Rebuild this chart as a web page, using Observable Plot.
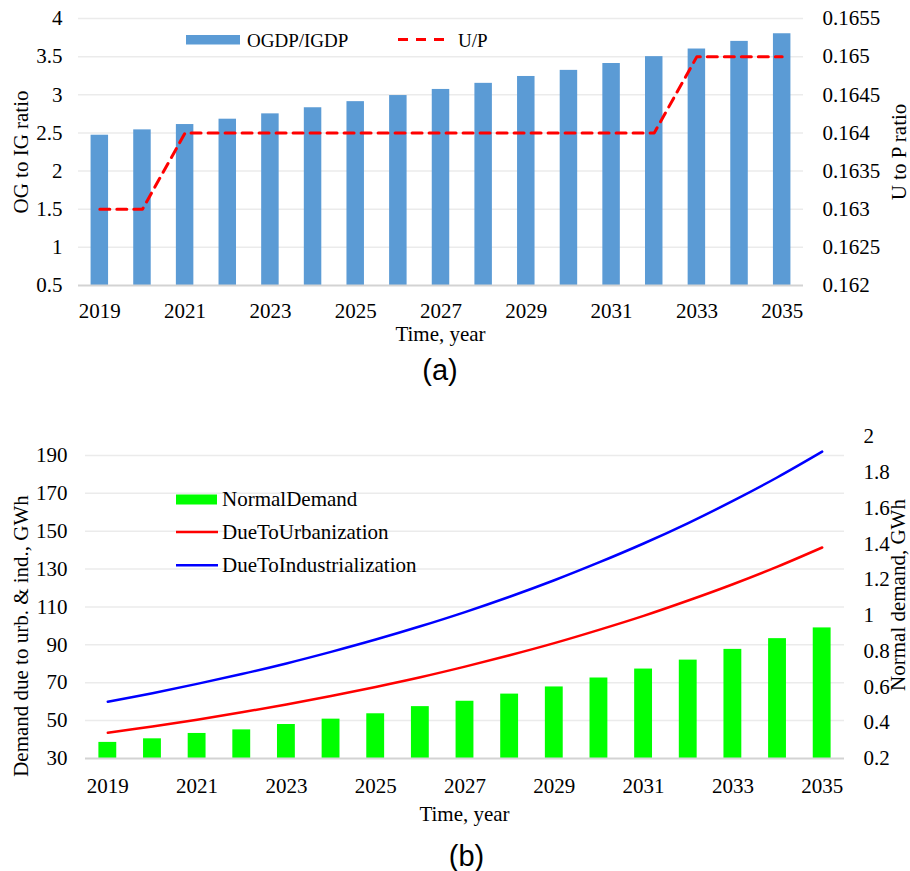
<!DOCTYPE html>
<html>
<head>
<meta charset="utf-8">
<script src="https://cdn.jsdelivr.net/npm/d3@7"></script>
<script src="https://cdn.jsdelivr.net/npm/@observablehq/plot@0.6"></script>
<style>
  html, body { margin: 0; padding: 0; background: #fff; }
  #page { position: relative; width: 910px; height: 871px; overflow: hidden; background: #fff; }
  #page > svg { position: absolute; left: 0; top: 0; }
  #page svg text { font-family: 'Liberation Serif', 'Times New Roman', serif; }
</style>
</head>
<body>
<div id="page"></div>
<script>
// ---- data ---------------------------------------------------------------
const years = [2019, 2020, 2021, 2022, 2023, 2024, 2025, 2026, 2027, 2028, 2029, 2030, 2031, 2032, 2033, 2034, 2035];
const yearTicks = [2019, 2021, 2023, 2025, 2027, 2029, 2031, 2033, 2035];

// (a) output-to-input GDP ratio (bars, left axis) and urban-to-total population ratio (line, right axis)
const ogdpIgdp = [2.47, 2.54, 2.61, 2.68, 2.75, 2.83, 2.91, 2.99, 3.07, 3.15, 3.24, 3.32, 3.41, 3.50, 3.60, 3.70, 3.80];
const upRatio = [0.163, 0.163, 0.164, 0.164, 0.164, 0.164, 0.164, 0.164, 0.164, 0.164, 0.164, 0.164, 0.164, 0.164, 0.165, 0.165, 0.165];
const ogTicks = [0.5, 1, 1.5, 2, 2.5, 3, 3.5, 4];
const upTicks = [0.162, 0.1625, 0.163, 0.1635, 0.164, 0.1645, 0.165, 0.1655];

// (b) demand: normal (bars, right axis), due to urbanization / industrialization (lines, left axis)
const normalDemand = [0.29, 0.31, 0.34, 0.36, 0.39, 0.42, 0.45, 0.49, 0.52, 0.56, 0.60, 0.65, 0.70, 0.75, 0.81, 0.87, 0.93];
const dueToUrbanization = [43.6, 46.9, 50.5, 54.4, 58.5, 63.0, 67.8, 72.9, 78.5, 84.5, 90.9, 97.9, 105.3, 113.4, 122.0, 131.3, 141.4];
const dueToIndustrialization = [60.0, 64.5, 69.4, 74.6, 80.2, 86.3, 92.8, 99.8, 107.3, 115.4, 124.1, 133.5, 143.5, 154.3, 166.0, 178.5, 192.0];
const demandTicks = [30, 50, 70, 90, 110, 130, 150, 170, 190];
const normalTicks = [0.2, 0.4, 0.6, 0.8, 1, 1.2, 1.4, 1.6, 1.8, 2];

const ogDomain = [0.5, 4];
const upDomain = [0.162, 0.1655];
const demandDomain = [30, 200];
const normalDomain = [0.2, 2];

const rowsA = years.map((year, i) => ({year, og: ogdpIgdp[i], up: upRatio[i]}));
const rowsB = years.map((year, i) => ({year, normal: normalDemand[i], urb: dueToUrbanization[i], ind: dueToIndustrialization[i]}));

// ---- layout -------------------------------------------------------------
const W = 910, H = 871;
const SERIF = "'Liberation Serif', 'Times New Roman', serif";
const SANS = "'Liberation Sans', Arial, sans-serif";
const GRID = "#ebebeb";
const BASE = "#d3d3d3";
const fmt = d => `${d}`;

const frameA = {marginTop: 18, marginBottom: H - 285, marginLeft: 78, marginRight: W - 803};
const frameB = {marginTop: 436, marginBottom: H - 758, marginLeft: 85, marginRight: W - 844};

const xA = {type: "band", domain: years, paddingInner: 0.59, paddingOuter: 0.295, round: false};
const xB = {type: "band", domain: years, paddingInner: 0.6, paddingOuter: 0.3, round: false};

const page = document.getElementById("page");

function layer(options) {
  const svg = Plot.plot({
    width: W,
    height: H,
    style: `font-family: ${SERIF}; font-size: 21px; color: #000; background: transparent; overflow: visible;`,
    ...options
  });
  page.appendChild(svg);
  return svg;
}

// (a) bars, grid and left axis
layer({
  ...frameA,
  x: {...xA, ticks: yearTicks, tickSize: 0, tickPadding: 18, tickFormat: fmt, label: null},
  y: {domain: ogDomain, ticks: ogTicks, tickSize: 0, tickPadding: 16, tickFormat: fmt, label: null},
  marks: [
    Plot.ruleY(ogTicks.slice(1), {stroke: GRID, strokeWidth: 1.5}),
    Plot.barY(rowsA, {x: "year", y1: ogDomain[0], y2: "og", fill: "#5b9bd5"}),
    Plot.ruleY([ogDomain[0]], {stroke: BASE, strokeWidth: 2})
  ]
});

// (a) U/P line and right axis
layer({
  ...frameA,
  x: {...xA, axis: null},
  y: {domain: upDomain, axis: "right", ticks: upTicks, tickSize: 0, tickPadding: 19, tickFormat: fmt, label: null},
  marks: [
    Plot.line(rowsA, {x: "year", y: "up", stroke: "#ff0000", strokeWidth: 3, strokeDasharray: "10,7"})
  ]
});

// (b) grid, x axis and left axis
layer({
  ...frameB,
  x: {...xB, ticks: yearTicks, tickSize: 0, tickPadding: 20, tickFormat: fmt, label: null},
  y: {domain: demandDomain, ticks: demandTicks, tickSize: 0, tickPadding: 18, tickFormat: fmt, label: null},
  marks: [
    Plot.ruleY(demandTicks.slice(1), {stroke: GRID, strokeWidth: 1.5})
  ]
});

// (b) normal demand bars and right axis
layer({
  ...frameB,
  x: {...xB, axis: null},
  y: {domain: normalDomain, axis: "right", ticks: normalTicks, tickSize: 0, tickPadding: 19, tickFormat: fmt, label: null},
  marks: [
    Plot.barY(rowsB, {x: "year", y1: normalDomain[0], y2: "normal", fill: "#00ff00"})
  ]
});

// (b) urbanization / industrialization lines
layer({
  ...frameB,
  x: {...xB, axis: null},
  y: {domain: demandDomain, axis: null},
  marks: [
    Plot.ruleY([demandDomain[0]], {stroke: BASE, strokeWidth: 2}),
    Plot.line(rowsB, {x: "year", y: "urb", stroke: "#ff0000", strokeWidth: 2.5, curve: "catmull-rom"}),
    Plot.line(rowsB, {x: "year", y: "ind", stroke: "#0000ff", strokeWidth: 2.5, curve: "catmull-rom"})
  ]
});

// ---- titles, legends and panel labels -----------------------------------
const ann = d3.select(page).append("svg")
  .attr("width", W).attr("height", H)
  .style("font-family", SERIF).style("font-size", "21px");

function text(x, y, s, opts = {}) {
  const t = ann.append("text").attr("x", x).attr("y", y).text(s)
    .attr("text-anchor", opts.anchor || "start").attr("fill", "#000");
  if (opts.size) t.style("font-size", opts.size);
  if (opts.family) t.style("font-family", opts.family);
  return t;
}
function vtext(x, y, s) {
  ann.append("text").attr("transform", `translate(${x},${y}) rotate(-90)`)
    .attr("text-anchor", "middle").attr("fill", "#000").text(s);
}

// axis titles
vtext(28, 152, "OG to IG ratio");
vtext(906, 152, "U to P ratio");
text(440.5, 341, "Time, year", {anchor: "middle"});
vtext(28, 636, "Demand due to urb. & ind., GWh");
vtext(905, 595, "Normal demand, GWh");
text(464.5, 821, "Time, year", {anchor: "middle"});

// legend (a)
ann.append("rect").attr("x", 186).attr("y", 35).attr("width", 54).attr("height", 9.5).attr("fill", "#5b9bd5");
text(247, 46.5, "OGDP/IGDP", {size: "19px"});
ann.append("line").attr("x1", 398).attr("x2", 446).attr("y1", 39.5).attr("y2", 39.5)
  .attr("stroke", "#ff0000").attr("stroke-width", 3).attr("stroke-dasharray", "10,8");
text(458, 46.5, "U/P", {size: "19px"});

// legend (b)
ann.append("rect").attr("x", 176).attr("y", 494.5).attr("width", 41).attr("height", 10).attr("fill", "#00ff00");
text(222, 506, "NormalDemand");
ann.append("line").attr("x1", 176).attr("x2", 218).attr("y1", 532).attr("y2", 532)
  .attr("stroke", "#ff0000").attr("stroke-width", 2.5);
text(222, 539, "DueToUrbanization");
ann.append("line").attr("x1", 176).attr("x2", 218).attr("y1", 565.3).attr("y2", 565.3)
  .attr("stroke", "#0000ff").attr("stroke-width", 2.5);
text(222, 572.3, "DueToIndustrialization");

// panel labels
text(440, 380, "(a)", {anchor: "middle", size: "29px", family: SANS});
text(466.5, 866, "(b)", {anchor: "middle", size: "29px", family: SANS});
</script>
</body>
</html>
